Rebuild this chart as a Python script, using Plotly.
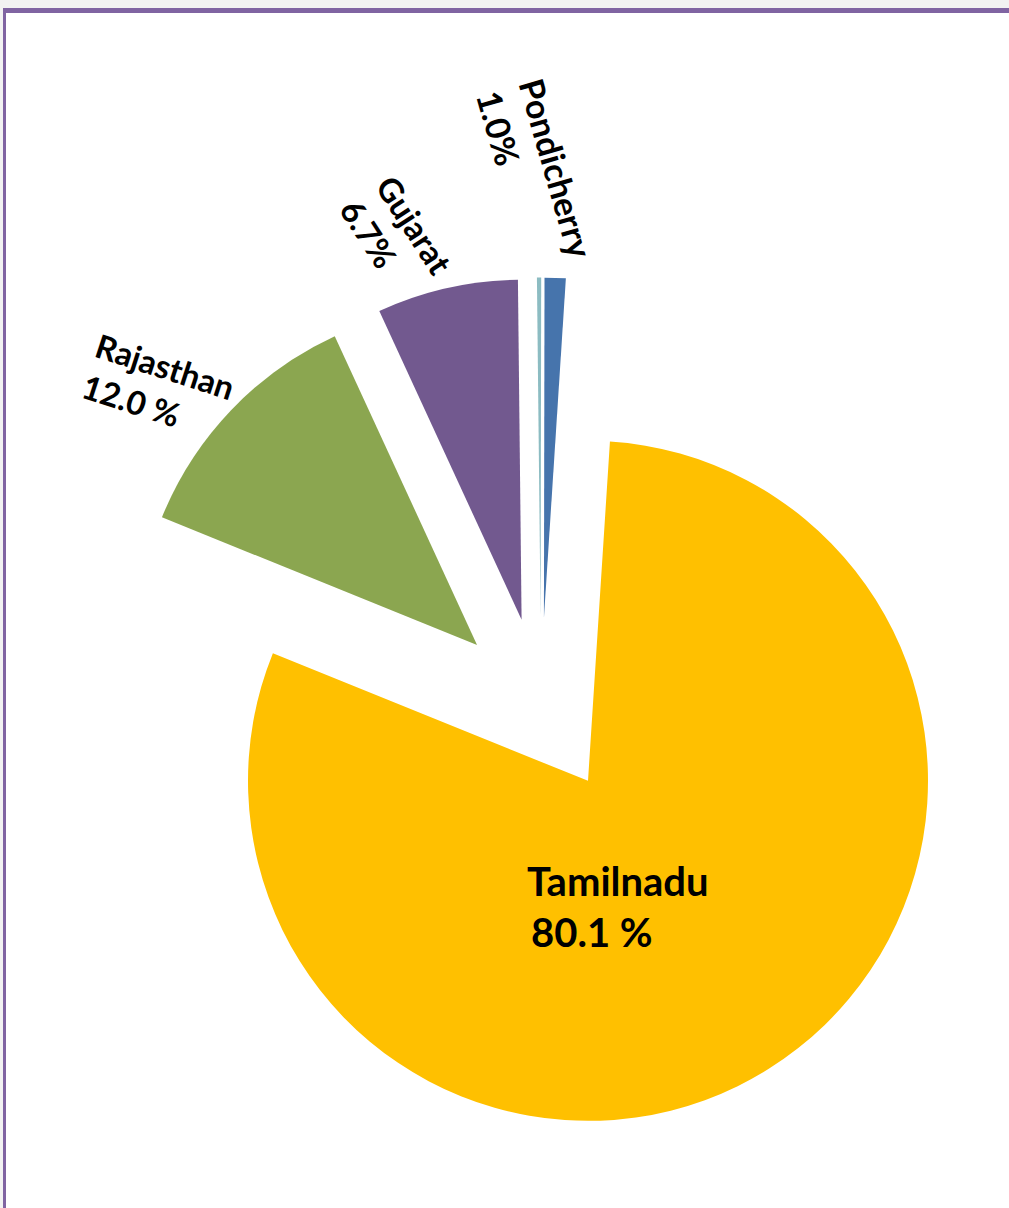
import plotly.graph_objects as go

# ---- data ----
states = ["Tamilnadu", "Rajasthan", "Gujarat", "Others", "Pondicherry"]
shares = [80.1, 12.0, 6.7, 0.2, 1.0]
pct_suffix = [" %", " %", "%", "", "%"]
slice_colors = ["#FFC000", "#8BA650", "#72598F", "#8CBCC2", "#4674AC"]

W, H = 1009, 1208


def fx(px):
    return px / W


def fy(py):
    return 1 - py / H


# pie geometry (pixels)
cx, cy, R, PULL = 541, 706, 340, 0.26
half = R * (1 + PULL)

fig = go.Figure(
    go.Pie(
        labels=states,
        values=shares,
        sort=False,
        direction="clockwise",
        rotation=3.7,
        pull=[PULL] * len(shares),
        marker=dict(colors=slice_colors, line=dict(width=0)),
        textinfo="none",
        hoverinfo="label+percent",
        showlegend=False,
        domain=dict(x=[fx(cx - half), fx(cx + half)], y=[fy(cy + half), fy(cy - half)]),
    )
)

# label placement (block centre in px, rotation, font size)
label_pos = {
    "Rajasthan": (159, 386, 18, 33),
    "Gujarat": (397, 236, 57, 33),
    "Pondicherry": (536, 174, 74, 34),
}
annotations = []
for name, val, suf in zip(states, shares, pct_suffix):
    if name in label_pos:
        x, y, ang, size = label_pos[name]
        annotations.append(dict(
            x=fx(x), y=fy(y), xref="paper", yref="paper",
            text=f"<b>{name}</b><br><b>{val:.1f}{suf}</b>",
            showarrow=False, textangle=ang, align="left",
            xanchor="center", yanchor="middle",
            font=dict(family="Lato", size=size, color="black"),
        ))

# Tamilnadu label (two lines, inside the slice)
annotations.append(dict(x=fx(618), y=fy(907), xref="paper", yref="paper",
                        text=f"<b>{states[0]}</b>", showarrow=False,
                        font=dict(family="Lato", size=40, color="black")))
annotations.append(dict(x=fx(592), y=fy(958), xref="paper", yref="paper",
                        text=f"<b>{shares[0]:.1f}{pct_suffix[0]}</b>", showarrow=False,
                        font=dict(family="Lato", size=40, color="black")))

# frame
shapes = [
    dict(type="rect", xref="paper", yref="paper", x0=0, x1=1, y0=fy(8), y1=1,
         fillcolor="#F2F2F2", line=dict(width=0), layer="below"),
    dict(type="rect", xref="paper", yref="paper", x0=0, x1=fx(3), y0=0, y1=1,
         fillcolor="#F2F2F2", line=dict(width=0), layer="below"),
    dict(type="rect", xref="paper", yref="paper", x0=fx(3), x1=1, y0=fy(13), y1=fy(8),
         fillcolor="#8064A2", line=dict(width=0), layer="below"),
    dict(type="rect", xref="paper", yref="paper", x0=fx(3), x1=fx(6), y0=0, y1=fy(8),
         fillcolor="#8064A2", line=dict(width=0), layer="below"),
]

fig.update_layout(
    width=W, height=H,
    margin=dict(l=0, r=0, t=0, b=0),
    paper_bgcolor="white",
    plot_bgcolor="white",
    annotations=annotations,
    shapes=shapes,
)

fig.write_html(
    "out.html",
    config={"displayModeBar": False},
    post_script="document.body.style.margin='0';document.body.style.overflow='hidden';",
)
